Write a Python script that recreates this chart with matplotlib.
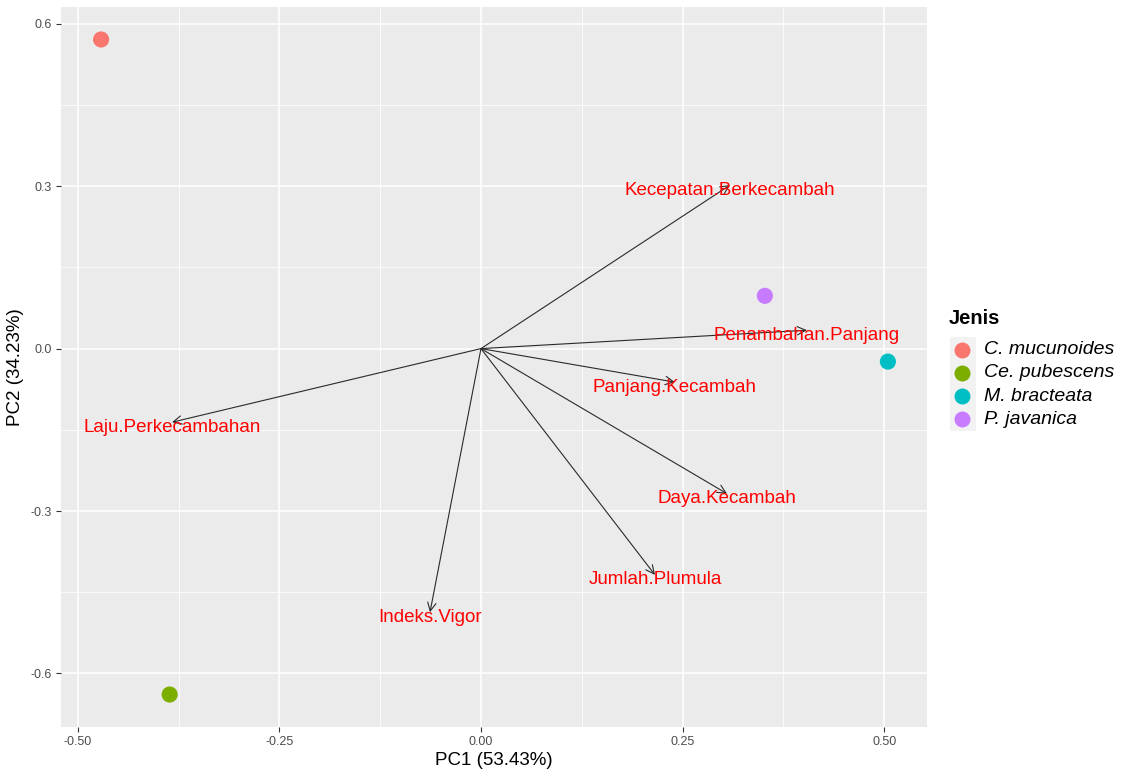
import matplotlib
matplotlib.use("Agg")
import matplotlib.pyplot as plt
from matplotlib.lines import Line2D
from matplotlib.patches import Rectangle
from matplotlib.ticker import FixedLocator

plt.rcParams['font.family'] = ['Liberation Sans', 'DejaVu Sans']

# PCA scores of each species
species = ["C. mucunoides", "Ce. pubescens", "M. bracteata", "P. javanica"]
pc1_scores = [-0.471, -0.386, 0.5045, 0.352]
pc2_scores = [0.571, -0.639, -0.024, 0.0975]
species_colors = ["#F8766D", "#7CAE00", "#00BFC4", "#C77CFF"]

# variable loadings
variables = ["Kecepatan.Berkecambah", "Penambahan.Panjang", "Panjang.Kecambah",
             "Daya.Kecambah", "Jumlah.Plumula", "Indeks.Vigor", "Laju.Perkecambahan"]
pc1_load = [0.3087, 0.404, 0.2405, 0.305, 0.2157, -0.0632, -0.383]
pc2_load = [0.302, 0.034, -0.062, -0.268, -0.418, -0.487, -0.136]

x_ticks = [-0.50, -0.25, 0.00, 0.25, 0.50]
x_tick_labels = ["-0.50", "-0.25", "0.00", "0.25", "0.50"]
y_ticks = [-0.6, -0.3, 0.0, 0.3, 0.6]
y_tick_labels = ["-0.6", "-0.3", "0.0", "0.3", "0.6"]

W, H = 1125, 769
fig = plt.figure(figsize=(W / 100, H / 100), dpi=100)
ax = fig.add_axes([61 / W, 1 - 727 / H, (927 - 61) / W, (727 - 7) / H])
ax.set_facecolor("#EBEBEB")
ax.set_xlim(-0.5207, 0.553)
ax.set_ylim(-0.699, 0.631)

ax.set_xticks(x_ticks)
ax.set_xticklabels(x_tick_labels)
ax.set_yticks(y_ticks)
ax.set_yticklabels(y_tick_labels)
ax.xaxis.set_minor_locator(FixedLocator([-0.375, -0.125, 0.125, 0.375]))
ax.yaxis.set_minor_locator(FixedLocator([-0.45, -0.15, 0.15, 0.45]))
ax.grid(which="major", color="white", lw=1.1)
ax.grid(which="minor", color="white", lw=0.55)
ax.set_axisbelow(True)
for s in ax.spines.values():
    s.set_visible(False)
ax.tick_params(which="major", length=3.5, width=0.8, color="#333333",
               labelsize=9, labelcolor="#4D4D4D", pad=3)
ax.tick_params(which="minor", length=0)

ax.set_xlabel("PC1 (53.43%)", fontsize=13.5, labelpad=3)
ax.set_ylabel("PC2 (34.23%)", fontsize=13.5, labelpad=5)

# species scores
ax.scatter(pc1_scores, pc2_scores, s=135, c=species_colors, zorder=3, linewidths=0)

# loading arrows and labels
for name, lx, ly in zip(variables, pc1_load, pc2_load):
    ax.annotate("", xy=(lx, ly), xytext=(0, 0),
                arrowprops=dict(arrowstyle="->,head_length=0.6,head_width=0.3",
                                color="#2A2A2A", lw=0.8, shrinkA=0, shrinkB=0),
                zorder=4)
    ax.annotate(name, xy=(lx, ly), xytext=(0, -2.2), textcoords="offset points",
                color="red", fontsize=13.5, ha="center",
                va="center_baseline", zorder=5)

# legend
fig.text(949 / W, 1 - 318 / H, "Jenis", fontsize=14.5, fontweight="bold",
         ha="left", va="center")
fig.add_artist(Rectangle((950 / W, 1 - 431 / H), 26 / W, 94 / H,
                         transform=fig.transFigure, facecolor="#F2F2F2",
                         edgecolor="none"))
for i, (name, col) in enumerate(zip(species, species_colors)):
    yc = 1 - (349.5 + i * 23.3) / H
    fig.add_artist(Line2D([962 / W], [yc], marker="o", markersize=11.5,
                          color=col, markeredgewidth=0, linestyle="none",
                          transform=fig.transFigure))
    fig.text(984 / W, yc, name, fontsize=14, style="italic",
             ha="left", va="center")

fig.savefig("out.png", dpi=100)
